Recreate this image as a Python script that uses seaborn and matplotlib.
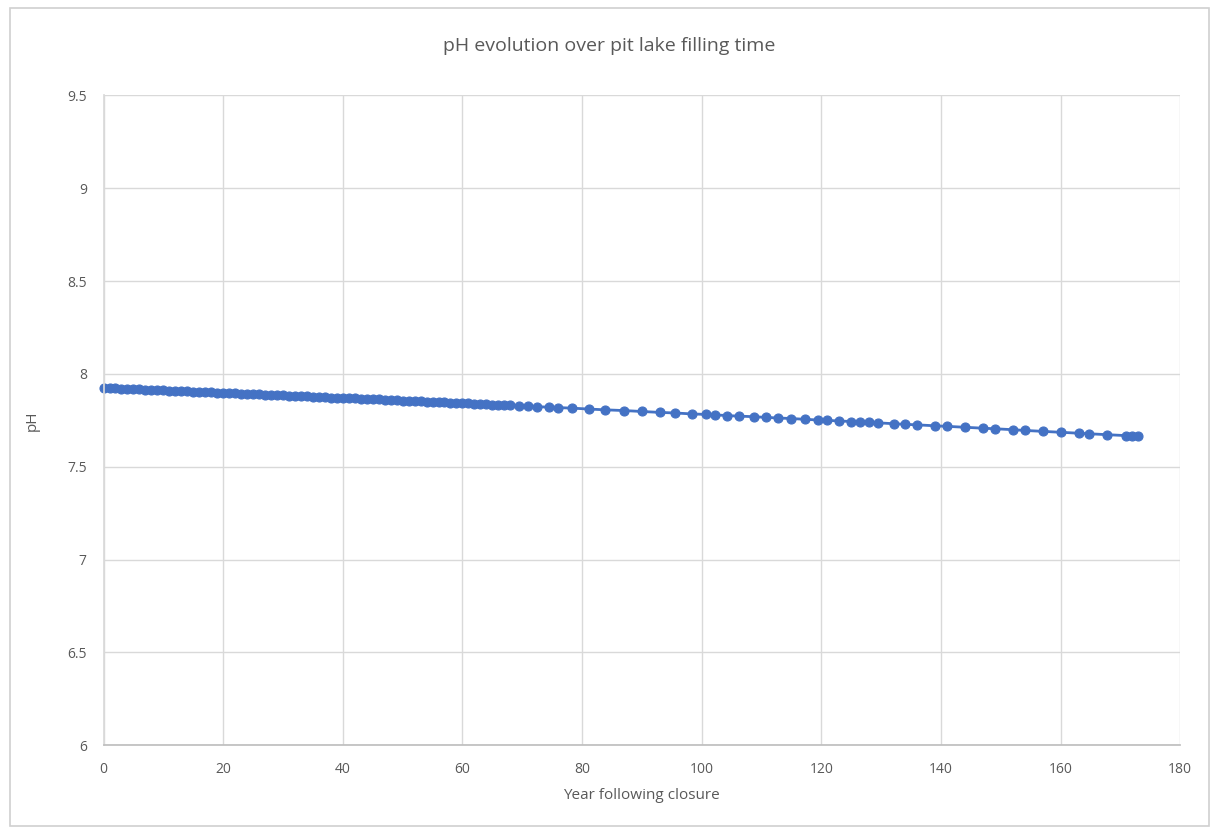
import matplotlib
matplotlib.use("Agg")
import matplotlib.pyplot as plt
import seaborn as sns
import pandas as pd
from matplotlib.patches import Rectangle

# ---- data ----
years = [0, 1, 2, 3, 4, 5, 6, 7, 8, 9, 10, 11, 12, 13, 14, 15, 16, 17, 18, 19,
         20, 21, 22, 23, 24, 25, 26, 27, 28, 29, 30, 31, 32, 33, 34, 35, 36, 37, 38, 39,
         40, 41, 42, 43, 44, 45, 46, 47, 48, 49, 50, 51, 52, 53, 54, 55, 56, 57, 58, 59,
         60, 61, 62, 63, 64, 65, 66, 67, 68, 69.5, 71, 72.5, 74.5, 76, 78.3, 81.2, 83.8,
         87, 90, 93, 95.5, 98.3, 100.8, 102.2, 104.2, 106.2, 108.7, 110.8, 112.8, 115,
         117.2, 119.5, 121, 123, 125, 126.5, 128, 129.4, 132.2, 134, 136, 139, 141, 144,
         147, 149, 152, 154, 157, 160, 163, 164.8, 167.8, 171, 172, 173]
ph = [7.925, 7.924, 7.922, 7.921, 7.920, 7.918, 7.917, 7.916, 7.914, 7.913,
      7.912, 7.911, 7.909, 7.908, 7.907, 7.905, 7.904, 7.903, 7.901, 7.900,
      7.898, 7.897, 7.896, 7.894, 7.893, 7.892, 7.890, 7.889, 7.887, 7.886,
      7.885, 7.883, 7.882, 7.880, 7.879, 7.878, 7.876, 7.875, 7.873, 7.872,
      7.871, 7.870, 7.868, 7.867, 7.865, 7.864, 7.863, 7.861, 7.860, 7.858,
      7.857, 7.856, 7.854, 7.853, 7.851, 7.850, 7.848, 7.847, 7.846, 7.844,
      7.843, 7.841, 7.840, 7.838, 7.837, 7.835, 7.834, 7.833, 7.831, 7.829,
      7.826, 7.824, 7.821, 7.819, 7.816, 7.811, 7.807, 7.803, 7.798, 7.793,
      7.790, 7.785, 7.782, 7.780, 7.776, 7.773, 7.770, 7.766, 7.763, 7.760,
      7.756, 7.752, 7.750, 7.747, 7.744, 7.741, 7.739, 7.737, 7.732, 7.729,
      7.726, 7.721, 7.718, 7.713, 7.708, 7.705, 7.700, 7.696, 7.691, 7.686,
      7.681, 7.678, 7.673, 7.668, 7.666, 7.664]
x_ticks = [0, 20, 40, 60, 80, 100, 120, 140, 160, 180]
y_ticks = [6, 6.5, 7, 7.5, 8, 8.5, 9, 9.5]
y_tick_labels = ["6", "6.5", "7", "7.5", "8", "8.5", "9", "9.5"]
title = "pH evolution over pit lake filling time"
x_label = "Year following closure"
y_label = "pH"

df = pd.DataFrame({"year": years, "ph": ph})

sns.set_theme(style="white")
plt.rcParams["font.family"] = ["Open Sans", "DejaVu Sans"]

fig = plt.figure(figsize=(12.18, 8.3), dpi=100)
fig.patch.set_facecolor("white")
# outer chart frame
fig.patches.append(Rectangle((0.008, 0.005), 0.985, 0.985, transform=fig.transFigure,
                             fill=False, edgecolor="#d0d0d0", linewidth=1.2))

ax = fig.add_axes([0.085, 0.102, 0.884, 0.783])
sns.lineplot(data=df, x="year", y="ph", ax=ax, color="#4472C4", linewidth=2,
             marker="o", markersize=6.5, markeredgecolor="#4472C4", markeredgewidth=0.8)
for line in ax.get_lines():
    line.set_clip_on(False)

ax.set_xlim(0, 180)
ax.set_ylim(6, 9.5)
ax.set_xticks(x_ticks)
ax.set_yticks(y_ticks)
ax.set_yticklabels(y_tick_labels)
ax.grid(True, color="#d9d9d9", linewidth=1)
ax.set_axisbelow(True)
for side in ["top", "right"]:
    ax.spines[side].set_visible(False)
ax.spines["left"].set_color("#d9d9d9")
ax.spines["bottom"].set_color("#bfbfbf")
ax.tick_params(axis="both", length=0, labelsize=10, labelcolor="#595959", pad=12)

ax.set_xlabel(x_label, fontsize=11, color="#595959", labelpad=8)
ax.set_ylabel(y_label, fontsize=11, color="#595959", labelpad=20)
fig.text(0.5, 0.945, title, ha="center", va="center", fontsize=14, color="#595959")

fig.savefig("out.png", dpi=100, facecolor="white")
